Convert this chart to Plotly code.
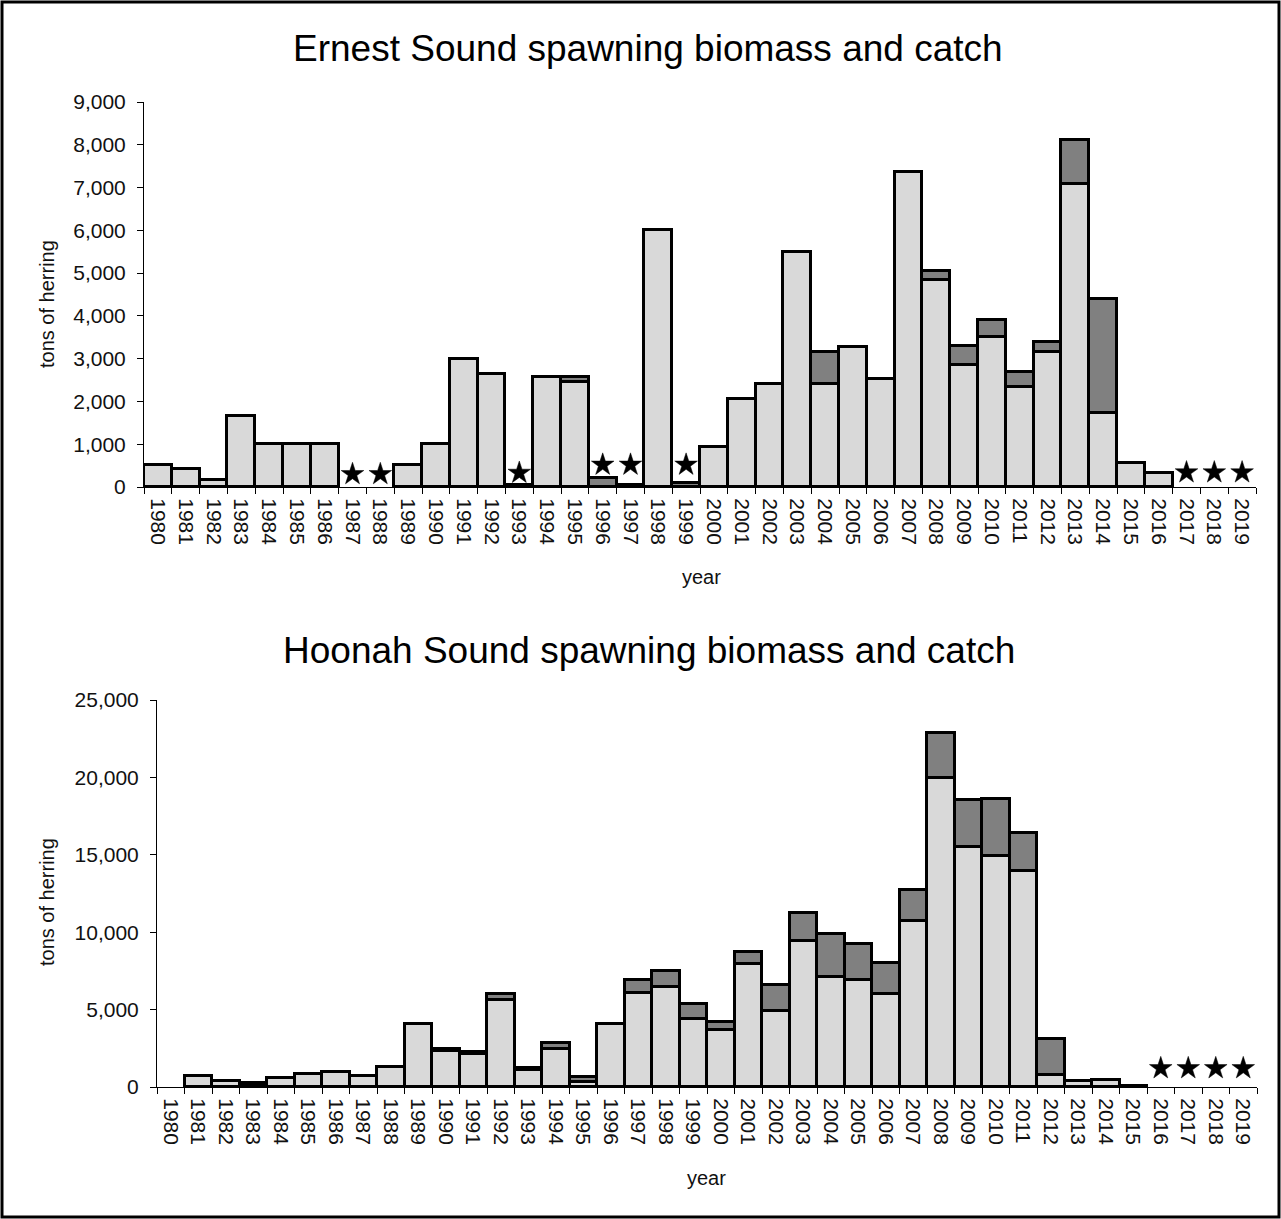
import plotly.graph_objects as go

W, H = 1281, 1219

years = list(range(1980, 2020))

# Ernest Sound (tons)
ernest_biomass = [520, 420, 160, 1660, 1000, 1000, 1000, None, None, 520,
                  1000, 3000, 2650, 40, 2560, 2460, None, 40, 6000, None,
                  940, 2050, 2400, 5500, 2400, 3280, 2530, 7370, 4840, 2850,
                  3500, 2340, 3150, 7080, 1740, 570, 335, None, None, None]
ernest_catch = [None, None, None, None, None, None, None, None, None, None,
                None, None, None, None, None, 120, 210, None, None, 90,
                None, None, None, None, 750, None, None, None, 210, 450,
                400, 360, 250, 1030, 2660, None, None, None, None, None]
ernest_star_years = [1987, 1988, 1993, 1996, 1997, 1999, 2017, 2018, 2019]
ernest_star_y = [300, 300, 330, 520, 520, 520, 340, 340, 340]

# Hoonah Sound (tons)
hoonah_biomass = [None, 700, 390, 170, 560, 865, 950, 690, 1300, 4040,
                  2330, 2160, 5650, 1080, 2440, 320, 4050, 6100, 6430, 4420,
                  3670, 7940, 4920, 9430, 7080, 6900, 6000, 10750, 19940, 15530,
                  14950, 13960, 760, 390, 480, 70, None, None, None, None]
hoonah_catch = [None, None, None, 60, None, None, None, None, None, None,
                130, 130, 390, 150, 430, 310, None, 800, 1080, 930,
                500, 800, 1660, 1830, 2820, 2320, 1990, 1980, 2930, 3020,
                3670, 2440, 2350, None, None, None, None, None, None, None]
hoonah_star_years = [2016, 2017, 2018, 2019]
hoonah_star_y = [1210, 1210, 1210, 1210]

LIGHT = "#d9d9d9"
DARK = "#808080"
FONT = "Liberation Sans, Arial, sans-serif"
TXT = "#111111"

cats = [str(y) for y in years]

fig = go.Figure()

def add_panel(biomass, catch, star_years, star_y, xa, ya):
    fig.add_bar(x=cats, y=biomass, xaxis=xa, yaxis=ya,
                marker=dict(color=LIGHT, line=dict(color="black", width=2.6)))
    fig.add_bar(x=cats, y=catch, xaxis=xa, yaxis=ya,
                marker=dict(color=DARK, line=dict(color="black", width=2.6)))
    fig.add_scatter(x=[str(v) for v in star_years], y=star_y, mode="markers",
                    xaxis=xa, yaxis=ya,
                    marker=dict(symbol="star", size=17, color="black",
                                line=dict(color="black", width=0.5)))

add_panel(ernest_biomass, ernest_catch, ernest_star_years, ernest_star_y, "x", "y")
add_panel(hoonah_biomass, hoonah_catch, hoonah_star_years, hoonah_star_y, "x2", "y2")

def px_x(p):
    return p / W

def px_y(p):
    return 1 - p / H

xcommon = dict(type="category", categoryorder="array", categoryarray=cats,
               range=[-0.5, 39.5], tickson="boundaries", ticks="outside",
               ticklen=6, tickwidth=1, tickcolor="black", showline=True,
               linecolor="black", linewidth=1, showgrid=False, tickangle=90,
               ticklabelstandoff=6, automargin=False,
               tickfont=dict(family=FONT, size=21, color=TXT), fixedrange=True)
ycommon = dict(ticks="outside", ticklen=6, tickwidth=1, tickcolor="black",
               showline=True, linecolor="black", linewidth=1, showgrid=False,
               zeroline=False, tickformat=",", ticklabelstandoff=7, automargin=False,
               tickfont=dict(family=FONT, size=21, color=TXT), fixedrange=True)

fig.update_layout(
    width=W, height=H,
    margin=dict(l=0, r=0, t=0, b=0, autoexpand=False),
    paper_bgcolor="white", plot_bgcolor="white",
    barmode="stack", bargap=0, showlegend=False,
    xaxis=dict(xcommon, domain=[px_x(144), px_x(1256)], anchor="y"),
    yaxis=dict(ycommon, domain=[px_y(487), px_y(102)], range=[0, 9000],
               tick0=0, dtick=1000, anchor="x"),
    xaxis2=dict(xcommon, domain=[px_x(157), px_x(1257)], anchor="y2"),
    yaxis2=dict(ycommon, domain=[px_y(1087), px_y(700)], range=[0, 25000],
                tick0=0, dtick=5000, anchor="x2"),
)

ann = []
ann.append(dict(text="Ernest Sound spawning biomass and catch", x=px_x(648), y=px_y(48),
                font=dict(family=FONT, size=37, color="black")))
ann.append(dict(text="Hoonah Sound spawning biomass and catch", x=px_x(649), y=px_y(650),
                font=dict(family=FONT, size=37, color="black")))
ann.append(dict(text="year", x=px_x(701), y=px_y(577),
                font=dict(family=FONT, size=20, color=TXT)))
ann.append(dict(text="year", x=px_x(707), y=px_y(1178),
                font=dict(family=FONT, size=20, color=TXT)))
ann.append(dict(text="tons of herring", x=px_x(47), y=px_y(304), textangle=-90,
                font=dict(family=FONT, size=20, color=TXT)))
ann.append(dict(text="tons of herring", x=px_x(47), y=px_y(902), textangle=-90,
                font=dict(family=FONT, size=20, color=TXT)))
for a in ann:
    a.update(xref="paper", yref="paper", showarrow=False, xanchor="center", yanchor="middle")
fig.update_layout(annotations=ann)

fig.add_shape(type="rect", xref="paper", yref="paper",
              x0=px_x(2), x1=px_x(1279), y0=px_y(1217), y1=px_y(2),
              line=dict(color="black", width=3), fillcolor="rgba(0,0,0,0)")

fig.write_html("out.html", config={"displayModeBar": False},
               post_script="document.body.style.margin='0';document.body.style.overflow='hidden';")
